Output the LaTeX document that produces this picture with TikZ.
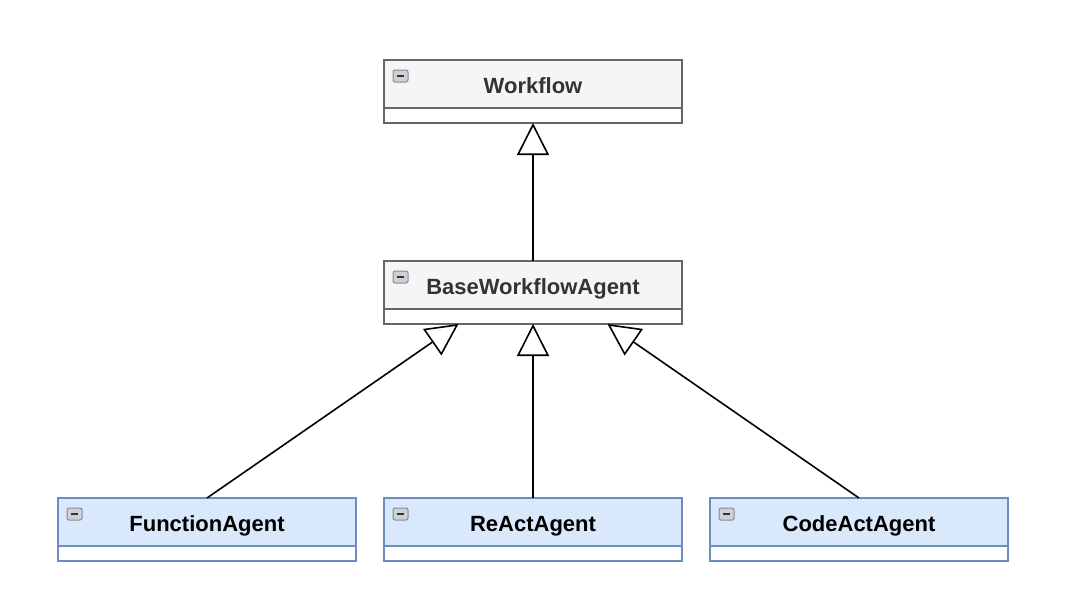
\documentclass[tikz,border=0pt]{standalone}
\usepackage{fontspec}
\setmainfont{Liberation Sans}
\usepackage{tikz}
\usetikzlibrary{positioning,calc,arrows.meta}
\tikzset{
	node distance = 69pt and 14pt,% vertical gap between class boxes, horizontal gap between the agents
	classhead/.style = {rectangle, draw=boxline, fill=headfill, line width=0.75pt, outer sep=0pt, minimum width=149pt, minimum height=24pt, text height=9pt, text depth=0pt, font=\fontsize{11pt}{13pt}\selectfont\bfseries, text=headtext},
	agenthead/.style = {classhead, draw=agentline, fill=agentfill, text=black},
	classbody/.style = {rectangle, draw=boxline, fill=white, line width=0.75pt, outer sep=0pt, minimum width=149pt, minimum height=7.5pt, inner sep=0pt},
	agentbody/.style = {classbody, draw=agentline},
	icon/.style = {draw=iconline, fill=iconfill, rounded corners=1pt, line width=0.5pt},
	inherit/.style = {-{Triangle[open, length=16pt, width=16pt]}, line width=0.8pt}
}
\begin{document}
\begin{tikzpicture}
\definecolor{boxline}{RGB}{102,102,102}
\definecolor{headfill}{RGB}{245,245,245}
\definecolor{headtext}{RGB}{51,51,51}
\definecolor{agentline}{RGB}{108,142,191}
\definecolor{agentfill}{RGB}{218,232,252}
\definecolor{iconline}{RGB}{130,140,155}
\definecolor{iconfill}{RGB}{205,208,212}
\useasboundingbox (0,0) rectangle (540pt,-303.5pt);
% class boxes
\node[classhead] (wf) at (266.5pt,-42pt) {Workflow};
\node[classbody, below=0pt of wf] (wf-b) {};
\node[classhead, below=of wf-b] (base) {BaseWorkflowAgent};
\node[classbody, below=0pt of base] (base-b) {};
\node[agenthead, below=87pt of base-b] (ra) {ReActAgent};
\node[agenthead, left=of ra] (fa) {FunctionAgent};
\node[agenthead, right=of ra] (ca) {CodeActAgent};
\foreach \n in {fa,ra,ca}
	\node[agentbody, below=0pt of \n] (\n-b) {};
% collapse icons
\foreach \n in {wf,base,fa,ra,ca}{
	\draw[icon] ($(\n.north west)+(4.5pt,-5pt)$) rectangle ++(7.5pt,-6pt);
	\draw[line width=1pt, black!80] ($(\n.north west)+(6.5pt,-8pt)$) -- ++(3.5pt,0);
}
% inheritance
\draw[inherit] (base.north) -- (wf-b.south);
\draw[inherit] (ra.north) -- (base-b.south);
\draw[inherit] (fa.north) -- ($(base-b.south west)!0.25!(base-b.south east)$);
\draw[inherit] (ca.north) -- ($(base-b.south west)!0.75!(base-b.south east)$);
\end{tikzpicture}
\end{document}
